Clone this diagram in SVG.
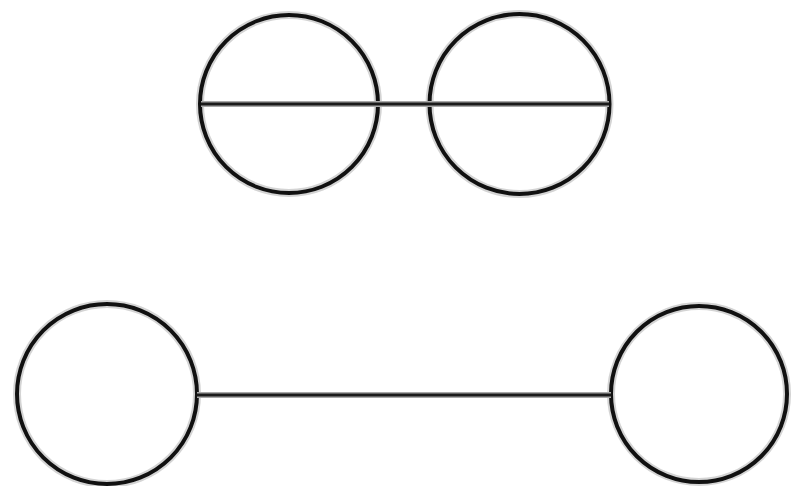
<svg xmlns="http://www.w3.org/2000/svg" width="794" height="486" viewBox="0 0 794 486">
<style>
.halo{fill:none;stroke:#d4d4d4;stroke-width:8}
.ring{fill:none;stroke:#111;stroke-width:4}
.edge-h{stroke:#a8a8a8;stroke-width:6}
.edge{stroke:#1a1a1a;stroke-width:3}
</style>
<rect width="794" height="486" fill="#fff"/>
<g id="n1"><circle class="halo" cx="289" cy="104" r="89"/><circle class="ring" cx="289" cy="104" r="89"/></g>
<g id="n2"><circle class="halo" cx="519.5" cy="104" r="90"/><circle class="ring" cx="519.5" cy="104" r="90"/></g>
<g id="n3"><circle class="halo" cx="107" cy="394" r="90"/><circle class="ring" cx="107" cy="394" r="90"/></g>
<g id="n4"><circle class="halo" cx="699" cy="394" r="88"/><circle class="ring" cx="699" cy="394" r="88"/></g>
<g id="connectors">
<line class="edge-h" x1="201" y1="104" x2="609" y2="104"/>
<line class="edge" x1="201" y1="104" x2="609" y2="104"/>
<line class="edge-h" x1="197" y1="395" x2="611" y2="395"/>
<line class="edge" x1="197" y1="395" x2="611" y2="395"/>
</g>
</svg>
